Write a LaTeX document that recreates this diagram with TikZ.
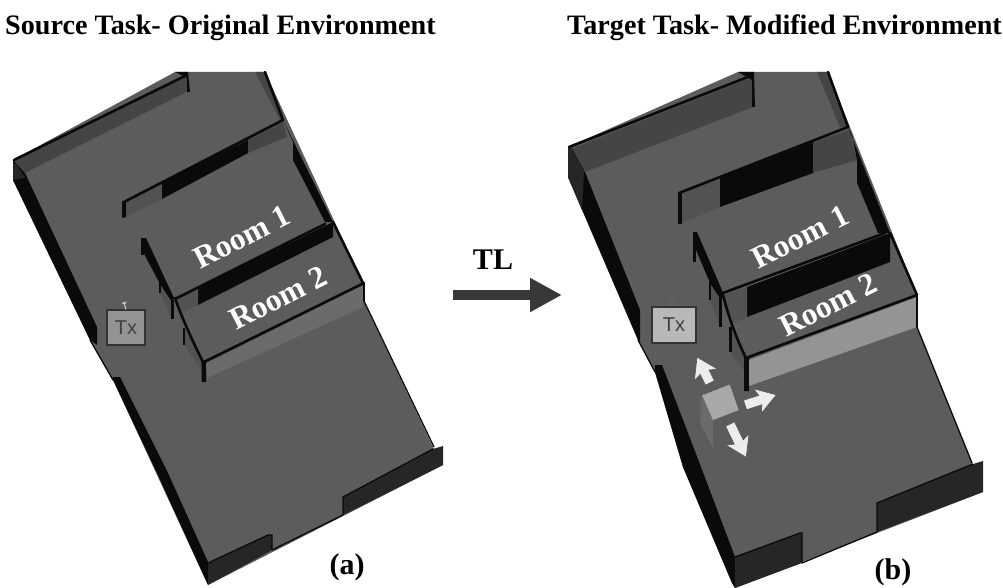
\documentclass[tikz,border=0pt]{standalone}
\usepackage{fontspec}
\setmainfont{Liberation Serif}
\setsansfont{Liberation Sans}
\usetikzlibrary{arrows.meta}
\definecolor{floorc}{gray}{0.36}
\definecolor{wallc}{gray}{0.27}
\definecolor{wallg}{gray}{0.32}
\definecolor{blackc}{gray}{0.04}
\definecolor{endc}{gray}{0.15}
\definecolor{roomtwoa}{gray}{0.42}
\definecolor{roomtwob}{gray}{0.58}
\definecolor{cubetop}{gray}{0.66}
\definecolor{cubeside}{gray}{0.42}
\definecolor{arrowc}{gray}{0.93}
\tikzset{
  floorp/.style={fill=floorc},
  wallp/.style={fill=wallc},
  wallq/.style={fill=wallg},
  blk/.style={fill=blackc},
  endw/.style={fill=endc},
  edge/.style={draw=blackc,line width=2.6pt,line cap=round},
  thinedge/.style={draw=blackc,line width=1.3pt},
  title/.style={font=\bfseries\fontsize{28.15}{30}\selectfont,anchor=west,inner sep=0pt},
  roomlabel/.style={font=\bfseries\fontsize{31.5}{34}\selectfont,text=white,rotate=27,inner sep=0pt},
  caption/.style={font=\bfseries\fontsize{30}{32}\selectfont,inner sep=0pt},
  txbox/.style={draw=black!80,line width=1.1pt,minimum width=38pt,minimum height=35pt,inner sep=0pt,
    font=\sffamily\fontsize{20}{22}\selectfont,text=black!75},
  moveArrow/.style={fill=arrowc,draw=black!65,line width=.7pt,line join=miter}
}
\newcommand{\blockarrow}[4]{%
  \begin{scope}[shift={(#1,#2)},rotate=#3]
    \path[moveArrow] (0,-5) -- (#4-17,-5) -- (#4-20,-13) -- (#4,0) -- (#4-20,13) -- (#4-17,5) -- (0,5) -- cycle;
  \end{scope}}
\begin{document}
\begin{tikzpicture}[x=1pt,y=-1pt]
\useasboundingbox (0,0) rectangle (1003,588);
% ---------- LEFT ----------
\fill[floorp] (13,160) -- (175,72) -- (265,72) -- (363,283) -- (364,302) -- (433,447) -- (443,465) -- (208,585) -- (113,380) -- (90,340) -- (13,180) -- cycle;
% left black walls
\fill[blk] (13,160) -- (25,173) -- (97,327) -- (97,345) -- (90,340) -- (13,180) -- cycle;
\fill[endc] (13,162) -- (17,165) -- (25,178) -- (13,180) -- cycle;
\fill[blk] (113,377) -- (120,377) -- (168,473) -- (208,562) -- (208,585) -- (157,473) -- (113,380) -- cycle;
\draw[thinedge] (90,340) -- (113,380);
% top wall
\fill[wallp] (15,161) -- (187,76) -- (187,92) -- (25,173) -- cycle;
\draw[edge] (14,160) -- (187,75);
\fill[blk] (175,72) -- (188,72) -- (190,92) -- (187,92) -- (187,78) -- cycle;
% right top wall
\fill[wallp] (255,72) -- (265,72) -- (284,120) -- (280,120) -- cycle;
\draw[edge] (265,72) -- (283,120);
% room 1 upper wall
\fill[wallq] (123,203) -- (162,183) -- (162,199) -- (125,217) -- cycle;
\fill[blk] (162,182) -- (248,140) -- (248,153) -- (162,199) -- cycle;
\fill[wallp] (248,140) -- (283,122) -- (287,137) -- (248,153) -- cycle;
\draw[edge] (124,202) -- (283,120);
\fill[blk] (122,201) -- (126,201) -- (126,217) -- (122,218) -- cycle;
% right black band of room 1
\fill[blk] (283,120) -- (333,222) -- (325,222) -- (293,160) -- (293,142) -- cycle;
% room1/room2 wall
\fill[blk] (198,288) -- (333,222) -- (333,237) -- (198,305) -- cycle;
\fill[wallq] (175,300) -- (198,288) -- (198,305) -- (183,312) -- cycle;
\draw[edge] (175,299) -- (325,224);
% room 1 left wall
\fill[wallq] (160,282) -- (172,300) -- (172,319) -- (160,293) -- cycle;
\fill[blk] (142,238) -- (146,238) -- (174,298) -- (172,302) -- (160,284) -- (142,250) -- cycle;
\fill[blk] (141,238) -- (143.5,238) -- (143.5,255) -- (141,255) -- cycle;
\fill[blk] (159,282) -- (161,282) -- (161,293) -- (159,293) -- cycle;
\fill[blk] (170.5,300) -- (173.5,300) -- (173.5,319) -- (170.5,319) -- cycle;
% room 2
\draw[edge] (333,222) -- (363,283);
\fill[wallq] (184,328) -- (203,362) -- (203,372) -- (184,345) -- cycle;
\fill[blk] (183,328) -- (185,328) -- (185,345) -- (183,345) -- cycle;
\draw[edge] (175,298) .. controls (182,318) and (192,340) .. (203,362);
\fill[blk] (201.5,360) -- (206,362) -- (206,382) -- (201.5,382) -- cycle;
\fill[roomtwoa] (206,364) -- (363,285) -- (363,307) -- (207,378) -- cycle;
\draw[edge] (204,362) -- (364,283);
\draw[thinedge] (364,283) -- (364,302);
\draw[thinedge] (364,301) -- (434,447);
% end walls
\fill[endw] (208,563) -- (268,535) -- (272,535) -- (272,550) -- (208,585) -- cycle;
\fill[endw] (343,497) -- (433,449) -- (443,446) -- (443,465) -- (343,515) -- cycle;
\draw[thinedge] (208,563) -- (268,535) -- (272,535) -- (272,550);
\draw[thinedge] (343,515) -- (343,497) -- (433,449);
\draw[thinedge] (272,550) -- (343,515);
% Tx
\node[txbox,fill=gray!85!white] (txa) at (126,327.5) {Tx};
\coordinate (anta) at (124,303);
\draw[white!80!black,line width=1pt] (anta) -- (txa.north);
\fill[white!80!black] (anta) +(-2.5,0) -- +(2.5,-1.5) -- +(1,1.5) -- cycle;
\node[roomlabel] (r1a) at (242,237) {Room 1};
\node[roomlabel] (r2a) at (278,298) {Room 2};
% ---------- RIGHT ----------
\fill[floorp] (568,147) -- (738,72) -- (828,72) -- (917,295) -- (917,327) -- (972,463) -- (983,492) -- (735,588) -- (732,583) -- (683,467) -- (655,372) -- (638,340) -- (568,177) -- cycle;
\fill[blk] (572,148) -- (585,172) -- (640,310) -- (640,342) -- (638,340) -- (568,177) -- cycle;
\fill[endc] (568,147) -- (573,149) -- (584,172) -- (582,210) -- (568,177) -- cycle;
\fill[blk] (655,365) -- (662,365) -- (701,467) -- (735,557) -- (735,588) -- (732,583) -- (683,467) -- (655,372) -- cycle;
\draw[thinedge] (638,340) -- (655,372);
% top wall
\fill[wallp] (573,148) -- (753,77) -- (753,107) -- (585,172) -- cycle;
\draw[edge] (569,147) -- (753,75);
\fill[blk] (738,72) -- (754,72) -- (755,107) -- (752,107) -- (752,80) -- cycle;
% right top wall
\fill[wallp] (817,72) -- (828,72) -- (848,127) -- (840,127) -- cycle;
\draw[edge] (828,72) -- (848,127);
% room 1 upper wall
\fill[wallq] (682,193) -- (720,178) -- (720,207) -- (682,223) -- cycle;
\fill[blk] (720,178) -- (813,142) -- (813,173) -- (720,207) -- cycle;
\fill[wallp] (813,142) -- (850,130) -- (857,160) -- (813,173) -- cycle;
\draw[edge] (679,193) -- (848,127);
\fill[blk] (678,192) -- (682,192) -- (682,224) -- (678,224) -- cycle;
% right black band
\fill[blk] (848,127) -- (890,233) -- (878,233) -- (857,183) -- (857,160) -- (852,135) -- cycle;
% room1/2 wall
\fill[blk] (747,287) -- (890,233) -- (890,262) -- (747,317) -- cycle;
\fill[wallq] (723,295) -- (747,287) -- (747,317) -- (733,323) -- cycle;
\draw[edge] (723,293) -- (885,233);
% room 1 left wall
\fill[wallq] (710,282) -- (720,298) -- (720,327) -- (710,300) -- cycle;
\fill[blk] (694,232) -- (697,232) -- (724,295) -- (721,300) -- (710,283) -- (694,245) -- cycle;
\fill[blk] (693,232) -- (695.5,232) -- (695.5,262) -- (693,262) -- cycle;
\fill[blk] (709,282) -- (711,282) -- (711,300) -- (709,300) -- cycle;
\fill[blk] (718.5,298) -- (721.5,298) -- (721.5,327) -- (718.5,327) -- cycle;
% room 2
\draw[edge] (890,233) -- (917,295);
\fill[wallq] (730,328) -- (745,357) -- (745,372) -- (730,352) -- cycle;
\fill[blk] (729,327) -- (731.5,327) -- (731.5,352) -- (729,352) -- cycle;
\draw[edge] (723,295) .. controls (728,315) and (736,338) .. (746,358);
\fill[blk] (744,356) -- (749,358) -- (749,391) -- (744,391) -- cycle;
\fill[roomtwob] (749,360) -- (917,297) -- (917,327) -- (749,386) -- cycle;
\draw[edge] (746,358) -- (917,295);
\draw[thinedge] (917,295) -- (917,327);
\draw[thinedge] (917,327) -- (972,463);
% end walls
\fill[endw] (735,557) -- (800,533) -- (802,533) -- (802,563) -- (735,588) -- cycle;
\fill[endw] (877,503) -- (973,464) -- (983,461) -- (983,492) -- (877,532) -- cycle;
\draw[thinedge] (735,557) -- (800,533) -- (802,533) -- (802,563);
\draw[thinedge] (877,532) -- (877,503) -- (973,464);
\draw[thinedge] (802,563) -- (877,532);
% Tx
\node[txbox,fill=white!72!black,minimum width=44pt,minimum height=36pt] (txb) at (674,325) {Tx};
\draw[black!60,line width=1pt] (669,300) rectangle (673,305);
% obstacle cube
\fill[cubeside] (702,395) -- (713,420) -- (713,448) -- (701,425) -- cycle;
\draw[black!60,line width=.8pt] (700,396) -- (700,425);
\fill[cubetop] (702,395) -- (730,384) -- (739,410) -- (713,420) -- cycle;
\draw[black!70,densely dotted,line width=.9pt] (702,395) -- (730,384) -- (739,410);
% movement arrows
\blockarrow{710}{383}{116.6}{29}
\blockarrow{745}{405}{18}{33}
\blockarrow{730}{424}{-64}{37}
\node[roomlabel] (r1b) at (800,237) {Room 1};
\node[roomlabel] (r2b) at (828,305) {Room 2};
% ---------- TEXT / TL ----------
\node[title] (ta) at (5,28) {Source Task- Original Environment};
\node[title] (tb) at (567,28) {Target Task- Modified Environment};
\coordinate (tl0) at (453,295); \coordinate (tl1) at (562,295);
\draw[draw=black!78,line width=10pt,-{Triangle[length=32pt,width=32pt]}] (tl0) -- (tl1);
\node[caption] (tl) at (493,260) {TL};
\node[caption] (ca) at (347,567) {(a)};
\node[caption] (cb) at (893,572) {(b)};
\end{tikzpicture}
\end{document}
